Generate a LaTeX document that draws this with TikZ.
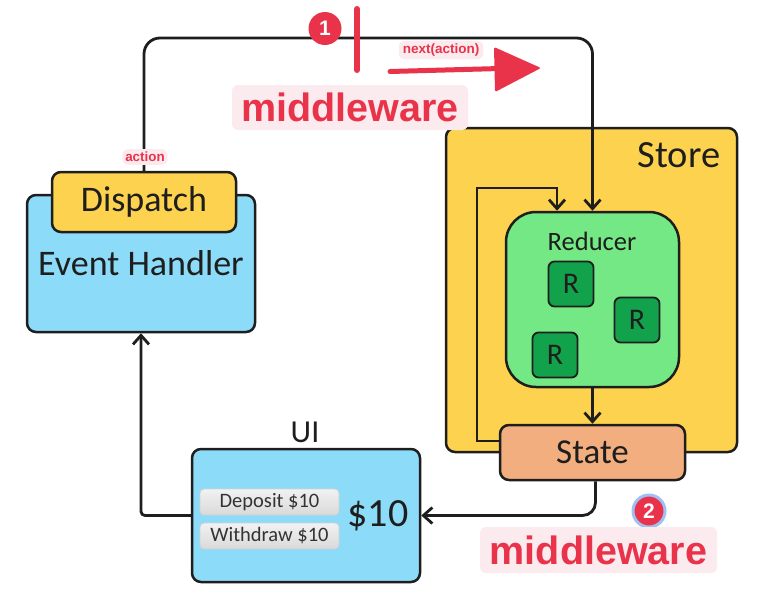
\documentclass[tikz,border=0pt]{standalone}
\usepackage{fontspec}
\setmainfont{Carlito}
\newfontfamily\tagfont{Liberation Sans}
\usetikzlibrary{arrows.meta,calc}

\definecolor{storeyellow}{HTML}{FDD24E}
\definecolor{skyblue}{HTML}{8CDCF9}
\definecolor{reducergreen}{HTML}{74E885}
\definecolor{rgreen}{HTML}{12A24B}
\definecolor{stateorange}{HTML}{F2AE7E}
\definecolor{alertred}{HTML}{E9334A}
\definecolor{tagpink}{HTML}{FCEBEE}
\definecolor{ringblue}{HTML}{9FC0F2}
\definecolor{ink}{HTML}{1E1E1E}

\newcommand{\fs}[1]{\fontsize{#1}{#1}\selectfont}

\tikzset{
  box/.style={draw=ink, line width=2.5pt, rounded corners=9pt, inner sep=0pt,
              text=ink, font=\fs{36}},
  rbox/.style={draw=ink, line width=1.8pt, rounded corners=6pt, fill=rgreen,
               minimum width=45pt, minimum height=45pt, inner sep=0pt,
               text=ink, font=\fs{30}},
  conn/.style={draw=ink, line width=2.8pt,
               -{Straight Barb[length=9pt,width=16pt,line width=2.8pt]}},
  button/.style={draw=black!18, line width=0.8pt, rounded corners=4pt,
                 top color=white!95!black, bottom color=black!15,
                 minimum width=139pt, minimum height=26pt, inner sep=0pt,
                 text=black!80, font=\fs{20.5}},
  tag/.style={fill=tagpink, rounded corners=6pt, inner sep=0pt,
              text=alertred, font=\tagfont\bfseries},
  badge/.style={circle, fill=alertred, minimum size=33pt, inner sep=0pt,
                text=white, font=\tagfont\bfseries\fs{21}}
}

\begin{document}
\begin{tikzpicture}[x=1pt, y=-1pt]
\useasboundingbox (0,0) rectangle (770,606);

% Store and its contents
\node[box, fill=storeyellow, minimum width=291pt, minimum height=324pt] (store) at (591.5,290) {};
\node[text=ink, font=\fs{38.5}] (storelabel) at (679,155) {Store};
\node[box, fill=reducergreen, rounded corners=30pt, minimum width=173pt, minimum height=175pt] (red) at (592.5,299.5) {};
\node[text=ink, font=\fs{26.5}] (redlabel) at (592,241) {Reducer};
\node[rbox] (r1) at (571,284) {R};
\node[rbox] (r2) at (637,320) {R};
\node[rbox] (r3) at (555,355) {R};
\node[box, fill=stateorange, font=\fs{35}, minimum width=185pt, minimum height=55pt] (state) at (592.5,452.5) {State};

% Event handler with dispatch
\node[box, fill=skyblue, minimum width=228pt, minimum height=137pt] (eh) at (141,263.5) {\raisebox{-3pt}{Event Handler}};
\node[box, fill=storeyellow, minimum width=184pt, minimum height=60pt] (disp) at (144,202) {Dispatch};

% UI panel
\node[box, fill=skyblue, minimum width=228pt, minimum height=133pt] (ui) at (306,515.5) {};
\node[text=ink, font=\fs{32}] (uilabel) at (305,432) {UI};
\node[text=ink, font=\fs{40}] (amount) at (378,516) {\$10};
\node[button] (dep) at (269.5,502) {Deposit \$10};
\node[button] (wd) at (269.5,536) {Withdraw \$10};

% Data flow
\coordinate (topright) at (592.5,38);
\draw[conn, rounded corners=16pt] (disp.north) |- (topright) -- (red.north);
\coordinate (loopcorner) at (477,188);
\draw[conn] ($(state.west)+(0,-11.5)$) -| (loopcorner) -| ($(red.north)+(-35.5,0)$);
\draw[conn] (red.south) -- (state.north);
\draw[conn, rounded corners=13pt] ($(state.south)+(3,0)$) |- (ui.east);
\draw[conn, rounded corners=4pt] (ui.west) -| (eh.south);

% Middleware annotations
\node[tag, font=\tagfont\bfseries\fs{13.4}, inner xsep=3pt, inner ysep=3pt] (acttag) at (145,157) {action};
\node[badge] (b1) at (325,28.5) {1};
\draw[alertred, line width=6pt, line cap=round] (357,9) -- (357,70);
\node[tag, font=\tagfont\bfseries\fs{13.5}, inner xsep=4pt, inner ysep=3pt] (nexttag) at (441,50) {next(action)};
\draw[alertred, line width=5pt, line cap=round] (390,71.5) -- (500,68.5);
\fill[alertred, rounded corners=1.5pt] (494,47) -- (541,68) -- (495,92) -- cycle;
\node[tag, minimum width=236pt, minimum height=45pt, font=\tagfont\bfseries\fs{39.5}] (mw1) at (350,107.5) {middleware};

\node[badge, minimum size=32pt, draw=ringblue, line width=3pt] (b2) at (649,511) {2};
\node[tag, minimum width=237pt, minimum height=46pt, font=\tagfont\bfseries\fs{39.5}] (mw2) at (598.5,550) {middleware};
\end{tikzpicture}
\end{document}
